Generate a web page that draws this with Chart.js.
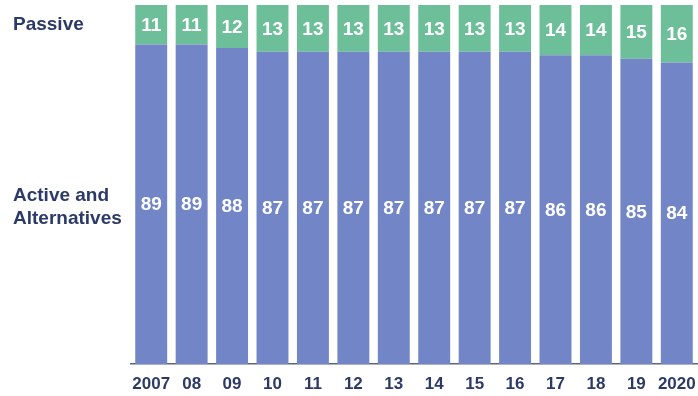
<!DOCTYPE html>
<html>
<head>
<meta charset="utf-8">
<script src="https://cdn.jsdelivr.net/npm/chart.js@4/dist/chart.umd.min.js"></script>
<style>
html,body{margin:0;padding:0;background:#fff;}
#wrap{width:698px;height:396px;position:relative;}
</style>
</head>
<body>
<div id="wrap"><canvas id="c" width="698" height="396"></canvas></div>
<script>
const categories = ["2007","08","09","10","11","12","13","14","15","16","17","18","19","2020"];
const activeValues = [89,89,88,87,87,87,87,87,87,87,86,86,85,84];
const passiveValues = [11,11,12,13,13,13,13,13,13,13,14,14,15,16];
const seriesNames = ["Active and Alternatives","Passive"];

const NAVY = "#2c3a68";
const FONT = "'Liberation Sans', Arial, sans-serif";

const labelPlugin = {
  id: "labels",
  afterDatasetsDraw(chart) {
    const ctx = chart.ctx;
    ctx.save();
    ctx.textAlign = "center";
    ctx.textBaseline = "middle";
    ctx.fillStyle = "#ffffff";
    ctx.font = "bold 19px " + FONT;
    chart.data.datasets.forEach((ds, di) => {
      const meta = chart.getDatasetMeta(di);
      meta.data.forEach((el, i) => {
        const cy = (el.y + el.base) / 2;
        ctx.fillText(String(ds.data[i]), el.x, cy + 1);
      });
    });
    // series names on the left
    ctx.textAlign = "left";
    ctx.fillStyle = NAVY;
    ctx.font = "bold 19px " + FONT;
    const g = chart.getDatasetMeta(1).data[0];
    const b = chart.getDatasetMeta(0).data[0];
    ctx.fillText("Passive", 13, (g.y + g.base) / 2);
    const bc = (b.y + b.base) / 2 + 3.5;
    ctx.fillText("Active and", 13, bc - 11.5);
    ctx.fillText("Alternatives", 13, bc + 11);
    ctx.restore();
  }
};

new Chart(document.getElementById("c"), {
  type: "bar",
  data: {
    labels: categories,
    datasets: [
      { label: seriesNames[0], data: activeValues, backgroundColor: "#7286c7", borderWidth: 0 },
      { label: seriesNames[1], data: passiveValues, backgroundColor: "#6cbf98", borderWidth: 0 }
    ]
  },
  options: {
    responsive: false,
    animation: false,
    layout: { padding: { left: 131, right: 1, top: 5, bottom: 2 } },
    plugins: { legend: { display: false }, tooltip: { enabled: false } },
    datasets: { bar: { barPercentage: 0.79, categoryPercentage: 1 } },
    scales: {
      x: {
        stacked: true,
        grid: { display: false, drawTicks: false },
        border: { display: true, color: "#5b6580", width: 1.5 },
        ticks: { color: NAVY, font: { family: FONT, size: 17, weight: "bold" }, padding: 10, maxRotation: 0, autoSkip: false },
        afterFit(scale) { scale.paddingLeft = 0; scale.paddingRight = 0; scale.height = 30; }
      },
      y: {
        stacked: true,
        display: false,
        min: 0,
        max: 100
      }
    }
  },
  plugins: [labelPlugin]
});
</script>
</body>
</html>
